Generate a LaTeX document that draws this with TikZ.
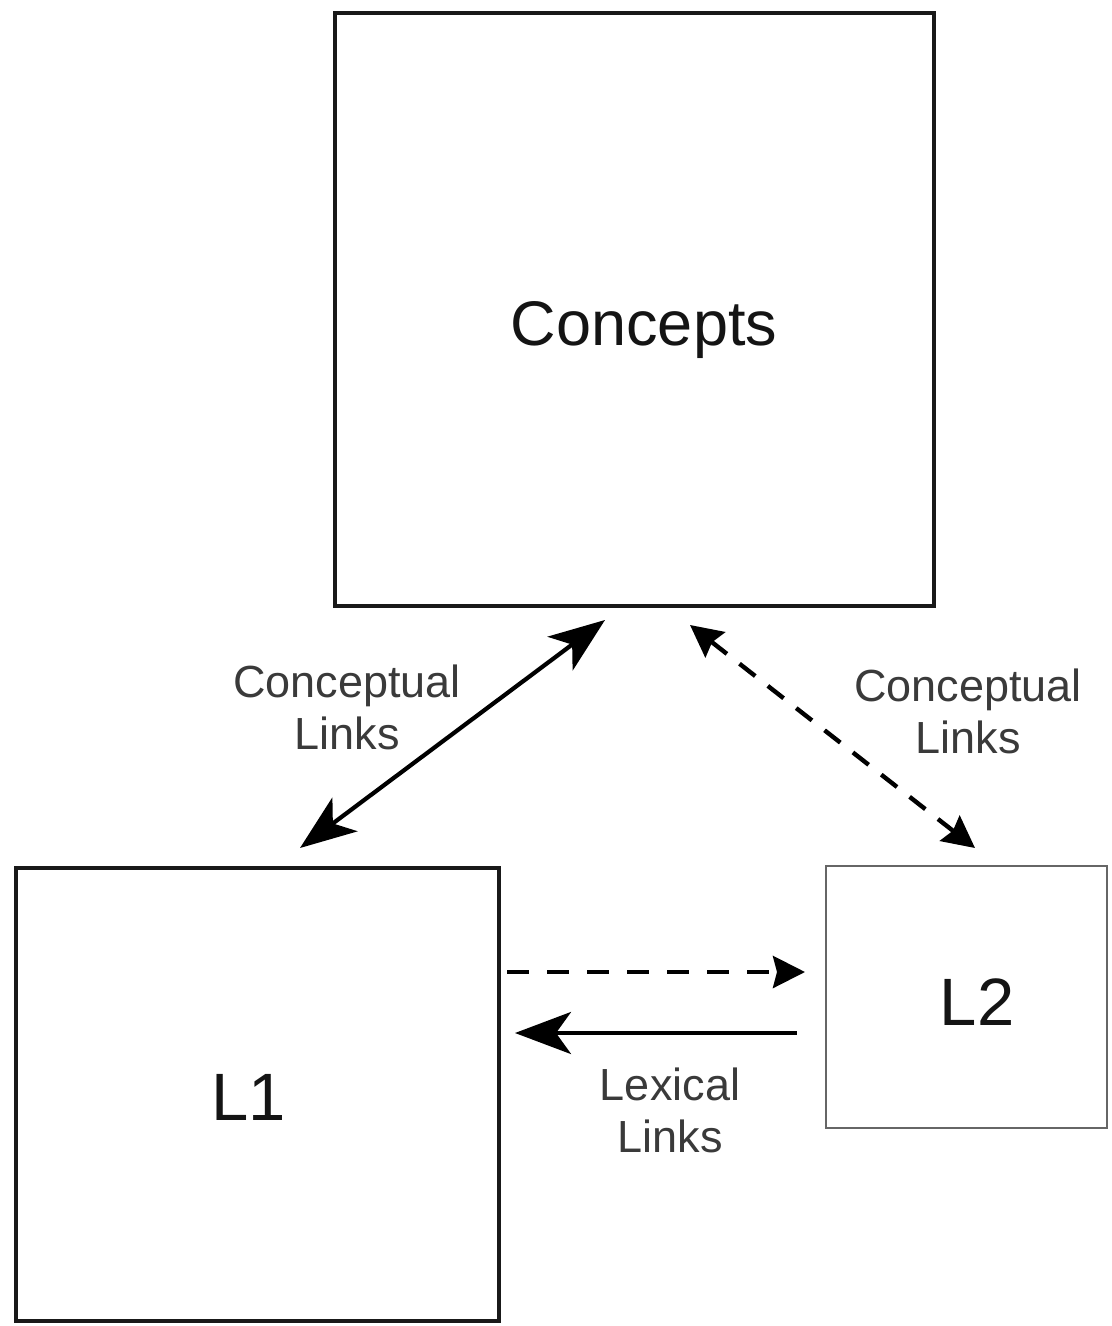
\documentclass[tikz,border=0pt]{standalone}
\usepackage{fontspec}
\setmainfont{Liberation Sans}
\usetikzlibrary{arrows.meta}
\definecolor{labelgray}{HTML}{3A3A3A}
\definecolor{boxgray}{HTML}{666666}
\tikzset{
  bigbox/.style={draw=black!90, line width=2.2pt, inner sep=0pt, outer sep=0pt},
  smallbox/.style={draw=boxgray, line width=1.3pt, inner sep=0pt, outer sep=0pt},
  bigtext/.style={anchor=base, inner sep=0pt, text=black!92},
  linktext/.style={anchor=base, inner sep=0pt, align=center, text=labelgray,
    font=\fontsize{22.5pt}{26pt}\selectfont},
  solidlink/.style={line width=2.1pt, black,
    {Stealth[length=28pt,width=21pt,inset=7.5pt]}-{Stealth[length=28pt,width=21pt,inset=7.5pt]}},
  solidone/.style={line width=2.1pt, black, {Stealth[length=28pt,width=21pt,inset=7.5pt]}-},
  dashlink/.style={line width=2.2pt, black, dash pattern=on 10pt off 8pt,
    {Stealth[length=16pt,width=16pt,inset=2pt]}-{Stealth[length=16pt,width=16pt,inset=2pt]}},
  dashone/.style={line width=2.2pt, black, dash pattern=on 11pt off 9pt,
    -{Stealth[length=16pt,width=16pt,inset=2pt]}}
}
\begin{document}
\begin{tikzpicture}[x=0.5pt,y=-0.5pt]
\useasboundingbox (0,0) rectangle (1112,1326);
% boxes
\node[bigbox, minimum width=299.5pt, minimum height=296.5pt] (concepts) at (634.5,309.5) {};
\node[bigbox, minimum width=241.5pt, minimum height=226.5pt] (l1) at (257.5,1094.5) {};
\node[smallbox, minimum width=140.5pt, minimum height=131pt] (l2) at (966.5,997) {};
% box texts
\node[bigtext, font=\fontsize{31.5pt}{36pt}\selectfont] (conceptstext) at (644,345) {Concepts};
\node[bigtext, font=\fontsize{33.5pt}{38pt}\selectfont] (l1text) at (249,1120) {L1};
\node[bigtext, font=\fontsize{33.5pt}{38pt}\selectfont] (l2text) at (977,1025) {L2};
% link labels (anchor at baseline of last line)
\node[linktext] (clleft) at (347,749) {Conceptual\\Links};
\node[linktext] (clright) at (968,753) {Conceptual\\Links};
\node[linktext] (lexical) at (670,1152) {Lexical\\Links};
% connector end points
\coordinate (la) at (300,848);
\coordinate (lb) at (605,620);
\coordinate (ra) at (690,625);
\coordinate (rb) at (975,848);
\coordinate (ha) at (507,972);
\coordinate (hb) at (805,972);
\coordinate (sa) at (797,1033);
\coordinate (sb) at (515,1033);
% connectors
\draw[solidlink] (la) -- (lb);
\draw[dashlink] (ra) -- (rb);
\draw[dashone] (ha) -- (hb);
\draw[solidone] (sb) -- (sa);
\end{tikzpicture}
\end{document}
